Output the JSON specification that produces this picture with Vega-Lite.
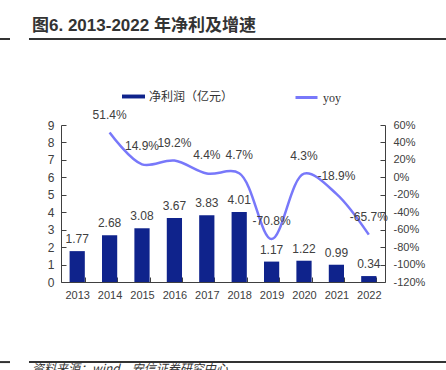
{
  "$schema": "https://vega.github.io/schema/vega-lite/v6.json",
  "width": 324,
  "height": 157,
  "autosize": {"type": "none"},
  "padding": {"left": 61, "top": 125, "right": 61, "bottom": 88},
  "background": "white",
  "title": {
    "text": "图6. 2013-2022 年净利及增速",
    "anchor": "start",
    "frame": "group",
    "dx": -29,
    "offset": 3,
    "font": "Liberation Sans, Noto Sans CJK SC",
    "fontSize": 17,
    "fontWeight": "bold",
    "color": "#333333"
  },
  "config": {
    "view": {"stroke": null},
    "axis": {
      "grid": false,
      "title": null,
      "domainColor": "#404040",
      "tickColor": "#404040",
      "labelColor": "#404040",
      "labelFont": "Liberation Sans",
      "labelFontSize": 11
    }
  },
  "datasets": {
    "main": [
      {"year": "2013", "profit": 1.77, "yoy": null, "label": ""},
      {"year": "2014", "profit": 2.68, "yoy": 51.4, "label": "51.4%"},
      {"year": "2015", "profit": 3.08, "yoy": 14.9, "label": "14.9%"},
      {"year": "2016", "profit": 3.67, "yoy": 19.2, "label": "19.2%"},
      {"year": "2017", "profit": 3.83, "yoy": 4.4, "label": "4.4%"},
      {"year": "2018", "profit": 4.01, "yoy": 4.7, "label": "4.7%"},
      {"year": "2019", "profit": 1.17, "yoy": -70.8, "label": "-70.8%"},
      {"year": "2020", "profit": 1.22, "yoy": 4.3, "label": "4.3%"},
      {"year": "2021", "profit": 0.99, "yoy": -18.9, "label": "-18.9%"},
      {"year": "2022", "profit": 0.34, "yoy": -65.7, "label": "-65.7%"}
    ],
    "rules": [
      {"x1": -0.1883, "x2": -0.1574, "y": 13.93},
      {"x1": -0.0988, "x2": 1.1883, "y": 13.93},
      {"x1": -0.1883, "x2": -0.1574, "y": -4.59},
      {"x1": -0.0988, "x2": 1.1883, "y": -4.59}
    ],
    "source": [
      {"x": -0.0895, "y": -4.7, "text": "资料来源：wind，安信证券研究中心"}
    ]
  },
  "layer": [
    {
      "data": {"name": "main"},
      "encoding": {
        "x": {
          "field": "year",
          "type": "ordinal",
          "scale": {"paddingInner": 0.53, "paddingOuter": 0.265},
          "axis": {
            "orient": "bottom",
            "labelAngle": 0,
            "tickBand": "extent",
            "tickSize": -5,
            "labelPadding": 12
          }
        },
        "y": {
          "field": "profit",
          "type": "quantitative",
          "scale": {"domain": [0, 9], "nice": false},
          "axis": {
            "orient": "left",
            "values": [0, 1, 2, 3, 4, 5, 6, 7, 8, 9],
            "tickSize": -5,
            "labelPadding": 12,
            "labelFontSize": 12
          }
        }
      },
      "layer": [
        {
          "mark": {"type": "bar"},
          "encoding": {
            "color": {
              "datum": "净利润（亿元）",
              "type": "nominal",
              "scale": {"range": ["#0f238c"]},
              "legend": {
                "orient": "none",
                "legendX": 61,
                "legendY": -40,
                "title": null,
                "symbolType": "M-1,-0.17H1V0.17H-1Z",
                "symbolSize": 529,
                "symbolStrokeWidth": 0,
                "labelFont": "Liberation Serif, Noto Sans CJK SC",
                "labelFontSize": 12,
                "labelColor": "#333333"
              }
            }
          }
        },
        {
          "mark": {
            "type": "text",
            "baseline": "bottom",
            "dy": -5,
            "font": "Liberation Sans",
            "fontSize": 12,
            "color": "#404040"
          },
          "encoding": {"text": {"field": "profit", "type": "quantitative", "format": ".2f"}}
        }
      ]
    },
    {
      "data": {"name": "main"},
      "transform": [{"filter": "isValid(datum.yoy)"}],
      "encoding": {
        "x": {
          "field": "year",
          "type": "ordinal",
          "scale": {"domain": ["2013","2014","2015","2016","2017","2018","2019","2020","2021","2022"], "paddingInner": 0.53, "paddingOuter": 0.265},
          "axis": null
        },
        "y": {
          "field": "yoy",
          "type": "quantitative",
          "scale": {"domain": [-120, 60], "nice": false, "zero": false},
          "axis": {
            "orient": "right",
            "values": [-120, -100, -80, -60, -40, -20, 0, 20, 40, 60],
            "labelExpr": "datum.value + '%'",
            "tickSize": -5,
            "labelPadding": 13
          }
        }
      },
      "layer": [
        {
          "mark": {"type": "line", "interpolate": "catmull-rom", "strokeWidth": 2.5},
          "encoding": {
            "stroke": {
              "datum": "yoy",
              "type": "nominal",
              "scale": {"range": ["#7878fa"]},
              "legend": {
                "orient": "none",
                "legendX": 233,
                "legendY": -40,
                "title": null,
                "symbolType": "stroke",
                "symbolSize": 484,
                "symbolStrokeWidth": 3,
                "labelFont": "Liberation Serif, Noto Sans CJK SC",
                "labelFontSize": 12,
                "labelColor": "#333333"
              }
            }
          }
        },
        {
          "mark": {
            "type": "text",
            "baseline": "bottom",
            "dy": -11,
            "font": "Liberation Sans",
            "fontSize": 12,
            "color": "#404040"
          },
          "encoding": {"text": {"field": "label", "type": "nominal"}}
        }
      ]
    },
    {
      "layer": [
        {
          "data": {"name": "rules"},
          "mark": {"type": "rule", "color": "#333333", "strokeWidth": 2},
          "encoding": {
            "x": {"field": "x1", "type": "quantitative", "scale": {"domain": [0, 1], "nice": false, "zero": false}, "axis": null},
            "x2": {"field": "x2"},
            "y": {"field": "y", "type": "quantitative", "scale": {"domain": [0, 9], "nice": false, "zero": false}, "axis": null}
          }
        },
        {
          "data": {"name": "source"},
          "mark": {
            "type": "text",
            "align": "left",
            "baseline": "top",
            "font": "Noto Sans CJK SC",
            "fontSize": 12,
            "fontStyle": "italic",
            "color": "#333333"
          },
          "encoding": {
            "x": {"field": "x", "type": "quantitative", "axis": null},
            "y": {"field": "y", "type": "quantitative", "axis": null},
            "text": {"field": "text"}
          }
        }
      ]
    }
  ],
  "resolve": {"scale": {"x": "independent", "y": "independent", "color": "independent", "stroke": "independent"}}
}
